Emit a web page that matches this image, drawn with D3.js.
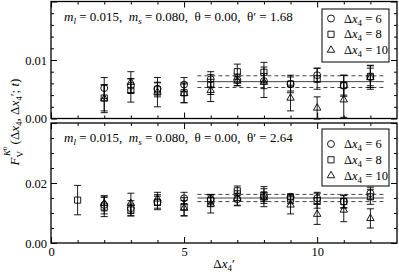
<!DOCTYPE html>
<html>
<head>
<meta charset="utf-8">
<script src="https://cdn.jsdelivr.net/npm/d3@7"></script>
<style>
  body { margin: 0; background: #fff; }
  svg { display: block; font-family: "Liberation Serif", "DejaVu Serif", serif; }
  svg text { white-space: pre; }
</style>
</head>
<body>
<div id="chart"></div>
<script>
// Δx4' positions
var xTop = [2, 3, 4, 5, 6, 7, 8, 9, 10, 11, 12];
var xBottomSquare = [1, 2, 3, 4, 5, 6, 7, 8, 9, 10, 11, 12];

// top panel, theta' = 1.68
var topCircle = [0.0052, 0.0056, 0.0051, 0.0058, 0.0067, 0.0066, 0.0064, 0.0059, 0.0074, 0.0056, 0.0071];
var topCircleErr = [0.0018, 0.0012, 0.0011, 0.0012, 0.0013, 0.0010, 0.0013, 0.0012, 0.0012, 0.0018, 0.0015];
var topSquare = [0.0035, 0.0048, 0.0049, 0.0044, 0.0058, 0.0080, 0.0079, 0.0059, 0.0068, 0.0057, 0.0072];
var topSquareErr = [0.0022, 0.0020, 0.0012, 0.0017, 0.0017, 0.0013, 0.0017, 0.0015, 0.0018, 0.0017, 0.0019];
var topTriangle = [0.0034, 0.0062, 0.0045, 0.0043, 0.0048, 0.0064, 0.0062, 0.0035, 0.0018, 0.0032, 0.0070];
var topTriangleErr = [0.0024, 0.0018, 0.0025, 0.0016, 0.0019, 0.0008, 0.0026, 0.0022, 0.0019, 0.0030, 0.0020];

// bottom panel, theta' = 2.64
var botCircle = [0.0127, 0.0116, 0.0136, 0.0149, 0.0146, 0.0146, 0.0154, 0.0154, 0.0149, 0.0138, 0.0166];
var botCircleErr = [0.0030, 0.0025, 0.0020, 0.0020, 0.0016, 0.0020, 0.0015, 0.0010, 0.0020, 0.0020, 0.0020];
var botSquare = [0.0143, 0.0120, 0.0110, 0.0136, 0.0121, 0.0141, 0.0174, 0.0160, 0.0146, 0.0141, 0.0138, 0.0154];
var botSquareErr = [0.0049, 0.0032, 0.0020, 0.0025, 0.0030, 0.0020, 0.0016, 0.0028, 0.0015, 0.0025, 0.0022, 0.0025];
var botTriangle = [0.0132, 0.0132, 0.0147, 0.0116, 0.0130, 0.0149, 0.0151, 0.0127, 0.0096, 0.0110, 0.0082];
var botTriangleErr = [0.0025, 0.0034, 0.0022, 0.0026, 0.0030, 0.0025, 0.0030, 0.0030, 0.0034, 0.0039, 0.0032];

// fit bands: [central, error], range in Δx4'
var topFit = [0.0063, 0.0010];
var botFit = [0.0150, 0.0012];
var fitRange = [5.5, 12.5];

var legendLabels = ["6", "8", "10"];

var svgWidth = 399;
var svgHeight = 275;
var plotLeft = 51, plotRight = 397;

var svg = d3.select("#chart")
    .append("svg")
    .attr("width", svgWidth)
    .attr("height", svgHeight);

var xScale = d3.scaleLinear().domain([0, 13]).range([plotLeft, plotRight]);

function symbolPath(kind) {
    if (kind == "circle") return d3.symbol().type(d3.symbolCircle).size(38)();
    if (kind == "square") return d3.symbol().type(d3.symbolSquare).size(38)();
    return d3.symbol().type(d3.symbolTriangle).size(24)();
}

function drawPanel(opts) {
    var yScale = d3.scaleLinear().domain(opts.domain).range([opts.bottom, opts.top]);
    var g = svg.append("g");

    // frame
    g.append("rect")
        .attr("x", plotLeft).attr("y", opts.top)
        .attr("width", plotRight - plotLeft).attr("height", opts.bottom - opts.top)
        .attr("fill", "none").attr("stroke", "#000").attr("stroke-width", 1.3);

    // axes, ticks inward
    var majorX = [0, 5, 10];
    var minorX = d3.range(1, 13).filter(d => d % 5 != 0);
    var yFmt = d => d == opts.domain[1] ? "" : d3.format(".2f")(d);
    var axes = [
        [d3.axisBottom(xScale).tickValues(majorX).tickSize(-6), `translate(0,${opts.bottom})`, opts.xLabels ? d3.format("d") : ""],
        [d3.axisBottom(xScale).tickValues(minorX).tickSize(-3), `translate(0,${opts.bottom})`, ""],
        [d3.axisTop(xScale).tickValues(majorX).tickSize(-6), `translate(0,${opts.top})`, ""],
        [d3.axisTop(xScale).tickValues(minorX).tickSize(-3), `translate(0,${opts.top})`, ""],
        [d3.axisLeft(yScale).tickValues(opts.majorY).tickSize(-6), `translate(${plotLeft},0)`, yFmt],
        [d3.axisLeft(yScale).tickValues(opts.minorY).tickSize(-3), `translate(${plotLeft},0)`, ""],
        [d3.axisRight(yScale).tickValues(opts.majorY).tickSize(-6), `translate(${plotRight},0)`, ""],
        [d3.axisRight(yScale).tickValues(opts.minorY).tickSize(-3), `translate(${plotRight},0)`, ""]
    ];
    axes.forEach(function (a) {
        var ax = a[0].tickPadding(4).tickSizeOuter(0).tickFormat(a[2]);
        var ag = g.append("g").attr("transform", a[1]).call(ax);
        ag.select(".domain").remove();
        ag.selectAll("line").attr("stroke", "#000");
        ag.selectAll("text").attr("font-size", "12.5px").attr("fill", "#000")
            .attr("font-family", "Liberation Serif, serif");
    });

    // fit band lines
    var fit = opts.fit;
    [[fit[0] + fit[1], "4,3"], [fit[0], null], [fit[0] - fit[1], "4,3"]].forEach(function (f) {
        g.append("line")
            .attr("x1", xScale(fitRange[0])).attr("x2", xScale(fitRange[1]))
            .attr("y1", yScale(f[0])).attr("y2", yScale(f[0]))
            .attr("stroke", "#444").attr("stroke-width", 1)
            .attr("stroke-dasharray", f[1]);
    });

    // series
    opts.series.forEach(function (s) {
        var data = s.x.map((x, i) => ({ x: x, y: s.y[i], e: s.e[i] }));
        var sg = g.append("g");
        var eb = sg.selectAll("g.eb").data(data).enter().append("g");
        eb.append("line")
            .attr("x1", d => xScale(d.x)).attr("x2", d => xScale(d.x))
            .attr("y1", d => yScale(d.y - d.e)).attr("y2", d => yScale(d.y + d.e));
        eb.append("line")
            .attr("x1", d => xScale(d.x) - 3.5).attr("x2", d => xScale(d.x) + 3.5)
            .attr("y1", d => yScale(d.y + d.e)).attr("y2", d => yScale(d.y + d.e));
        eb.append("line")
            .attr("x1", d => xScale(d.x) - 3.5).attr("x2", d => xScale(d.x) + 3.5)
            .attr("y1", d => yScale(d.y - d.e)).attr("y2", d => yScale(d.y - d.e));
        eb.selectAll("line").attr("stroke", "#000").attr("stroke-width", 0.9);

        sg.selectAll("path").data(data).enter().append("path")
            .attr("d", symbolPath(s.kind))
            .attr("transform", d => `translate(${xScale(d.x)},${yScale(d.y)})`)
            .attr("fill", "none").attr("stroke", "#000").attr("stroke-width", 0.9);
    });

    // parameter annotation
    var t = g.append("text")
        .attr("x", 64).attr("y", opts.top + 19)
        .attr("font-size", "13px");
    t.append("tspan").attr("font-style", "italic").text("m");
    t.append("tspan").attr("font-style", "italic").attr("font-size", "9px").attr("dy", 3).text("l");
    t.append("tspan").attr("dy", -3).text(" = 0.015,  ");
    t.append("tspan").attr("font-style", "italic").text("m");
    t.append("tspan").attr("font-style", "italic").attr("font-size", "9px").attr("dy", 3).text("s");
    t.append("tspan").attr("dy", -3).text(" = 0.080,  \u03b8 = 0.00,  \u03b8\u2032 = " + opts.theta);

    // legend
    var lg = g.append("g").attr("transform", `translate(322,${opts.legendTop})`);
    lg.append("rect").attr("width", 67).attr("height", opts.legendH)
        .attr("fill", "#fff").attr("stroke", "#000").attr("stroke-width", 1);
    ["circle", "square", "triangle"].forEach(function (k, i) {
        var cy = opts.legendRow0 + i * 15.8;
        lg.append("path").attr("d", symbolPath(k))
            .attr("transform", `translate(9,${cy})`)
            .attr("fill", "none").attr("stroke", "#000").attr("stroke-width", 0.9);
        var lt = lg.append("text").attr("x", 22).attr("y", cy + 4).attr("font-size", "12.5px");
        lt.append("tspan").text("\u0394");
        lt.append("tspan").attr("font-style", "italic").text("x");
        lt.append("tspan").attr("font-size", "9px").attr("dy", 3).text("4");
        lt.append("tspan").attr("dy", -3).text(" = " + legendLabels[i]);
    });
}

drawPanel({
    top: 1.5, bottom: 118.5, domain: [0, 0.02],
    majorY: [0, 0.01, 0.02], minorY: [0.002, 0.004, 0.006, 0.008, 0.012, 0.014, 0.016, 0.018],
    xLabels: false, theta: "1.68", fit: topFit,
    legendTop: 9, legendH: 53, legendRow0: 9.5,
    series: [
        { kind: "circle", x: xTop, y: topCircle, e: topCircleErr },
        { kind: "square", x: xTop, y: topSquare, e: topSquareErr },
        { kind: "triangle", x: xTop, y: topTriangle, e: topTriangleErr }
    ]
});

drawPanel({
    top: 123, bottom: 243, domain: [0, 0.04],
    majorY: [0, 0.02, 0.04], minorY: [0.005, 0.01, 0.015, 0.025, 0.03, 0.035],
    xLabels: true, theta: "2.64", fit: botFit,
    legendTop: 129, legendH: 57, legendRow0: 15,
    series: [
        { kind: "circle", x: xTop, y: botCircle, e: botCircleErr },
        { kind: "square", x: xBottomSquare, y: botSquare, e: botSquareErr },
        { kind: "triangle", x: xTop, y: botTriangle, e: botTriangleErr }
    ]
});

// axis titles
var yl = svg.append("text")
    .attr("transform", "translate(19,122) rotate(-90)")
    .attr("text-anchor", "middle")
    .attr("font-size", "13px");
yl.append("tspan").attr("font-style", "italic").text("F");
yl.append("tspan").attr("font-size", "9px").attr("dy", 4).text("V");
yl.append("tspan").attr("font-style", "italic").attr("font-size", "9px").attr("dy", -13).attr("dx", -5).text("K");
yl.append("tspan").attr("font-size", "7px").attr("dy", -3).text("0");
yl.append("tspan").attr("dy", 12).attr("dx", 2).text("(\u0394");
yl.append("tspan").attr("font-style", "italic").text("x");
yl.append("tspan").attr("font-size", "9px").attr("dy", 3).text("4");
yl.append("tspan").attr("dy", -3).text(", \u0394");
yl.append("tspan").attr("font-style", "italic").text("x");
yl.append("tspan").attr("font-size", "9px").attr("dy", 3).text("4");
yl.append("tspan").attr("dy", -3).text("\u2032; ");
yl.append("tspan").attr("font-style", "italic").text("t");
yl.append("tspan").text(")");

var xl = svg.append("text")
    .attr("x", 224).attr("y", 268)
    .attr("text-anchor", "middle")
    .attr("font-size", "13px");
xl.append("tspan").text("\u0394");
xl.append("tspan").attr("font-style", "italic").text("x");
xl.append("tspan").attr("font-size", "9px").attr("dy", 3).text("4");
xl.append("tspan").attr("dy", -3).text("\u2032");
</script>
</body>
</html>
